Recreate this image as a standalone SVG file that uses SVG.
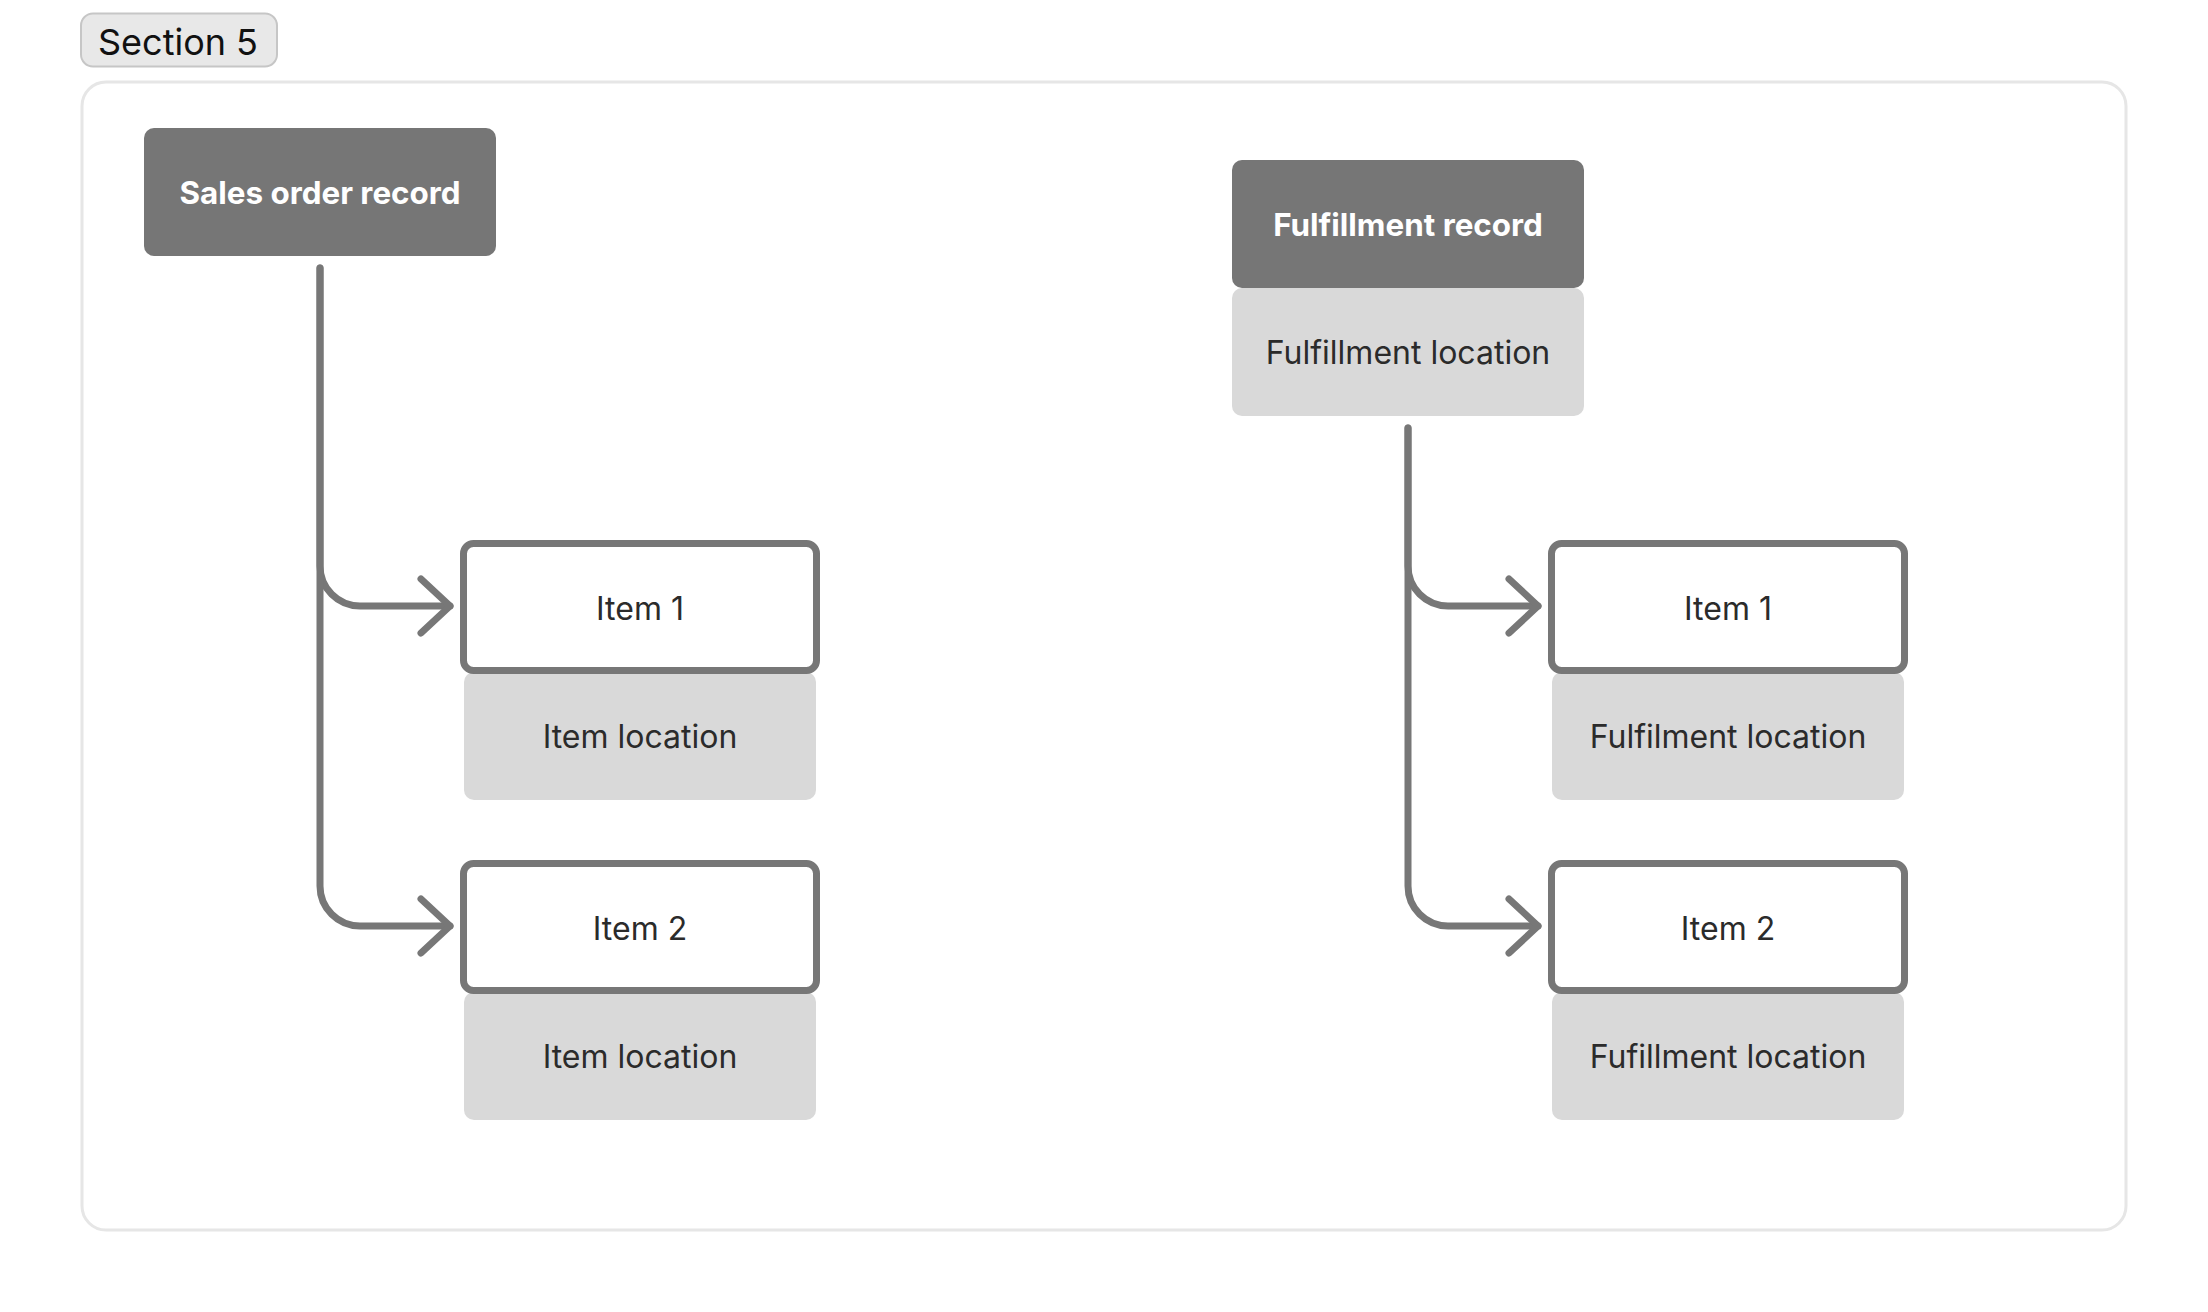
<svg xmlns="http://www.w3.org/2000/svg" width="2208" height="1312" viewBox="0 0 2208 1312">
<style>
.head{fill:#767676}
.headt{font-family:Inter,"Noto Sans",sans-serif;font-size:31.4px;font-weight:700;fill:#ffffff;text-anchor:middle}
.item{fill:#ffffff;stroke:#777777;stroke-width:7}
.loc{fill:#d9d9d9}
.t{font-family:Inter,"Noto Sans",sans-serif;font-size:32px;fill:#2b2b2b;text-anchor:middle}
.conn{fill:none;stroke:#777777;stroke-width:7;stroke-linecap:round}
</style>
<defs>
<marker id="arr" markerUnits="userSpaceOnUse" viewBox="0 0 80 80" markerWidth="80" markerHeight="80" refX="40" refY="40" orient="auto">
<path d="M11,13 L40,40 L11,67" fill="none" stroke="#777777" stroke-width="7" stroke-linecap="round" stroke-linejoin="round"/>
</marker>
</defs>
<rect width="2208" height="1312" fill="#ffffff"/>
<g id="section-label">
<rect x="81" y="13.5" width="196" height="53" rx="12" fill="#e8e8e8" stroke="#c6c6c6" stroke-width="2"/>
<text x="178" y="55" font-family="Inter,'Noto Sans',sans-serif" font-size="36" fill="#111111" text-anchor="middle">Section 5</text>
</g>
<g id="section-frame">
<rect x="82" y="82" width="2044" height="1148" rx="24" fill="none" stroke="#e6e6e6" stroke-width="3"/>
</g>
<g id="connectors">
<path class="conn" d="M320,268 V566 A40,40 0 0 0 360,606 H450" marker-end="url(#arr)"/>
<path class="conn" d="M320,268 V886 A40,40 0 0 0 360,926 H450" marker-end="url(#arr)"/>
<path class="conn" d="M1408,428 V566 A40,40 0 0 0 1448,606 H1538" marker-end="url(#arr)"/>
<path class="conn" d="M1408,428 V886 A40,40 0 0 0 1448,926 H1538" marker-end="url(#arr)"/>
</g>
<g id="sales-order-record">
<rect class="head" x="144" y="128" width="352" height="128" rx="10"/>
<text class="headt" x="320" y="204">Sales order record</text>
</g>
<g id="fulfillment-record">
<rect class="loc" x="1232" y="288" width="352" height="128" rx="10"/>
<rect class="head" x="1232" y="160" width="352" height="128" rx="10"/>
<text class="headt" x="1408" y="236">Fulfillment record</text>
<text class="t" x="1408" y="364">Fulfillment location</text>
</g>
<g id="so-item-1">
<rect class="loc" x="464" y="672" width="352" height="128" rx="10"/>
<rect class="item" x="463.5" y="543.5" width="353" height="127" rx="10"/>
<text class="t" x="640" y="620">Item 1</text>
<text class="t" x="640" y="748">Item location</text>
</g>
<g id="so-item-2">
<rect class="loc" x="464" y="992" width="352" height="128" rx="10"/>
<rect class="item" x="463.5" y="863.5" width="353" height="127" rx="10"/>
<text class="t" x="640" y="940">Item 2</text>
<text class="t" x="640" y="1068">Item location</text>
</g>
<g id="f-item-1">
<rect class="loc" x="1552" y="672" width="352" height="128" rx="10"/>
<rect class="item" x="1551.5" y="543.5" width="353" height="127" rx="10"/>
<text class="t" x="1728" y="620">Item 1</text>
<text class="t" x="1728" y="748">Fulfilment location</text>
</g>
<g id="f-item-2">
<rect class="loc" x="1552" y="992" width="352" height="128" rx="10"/>
<rect class="item" x="1551.5" y="863.5" width="353" height="127" rx="10"/>
<text class="t" x="1728" y="940">Item 2</text>
<text class="t" x="1728" y="1068">Fufillment location</text>
</g>
</svg>
